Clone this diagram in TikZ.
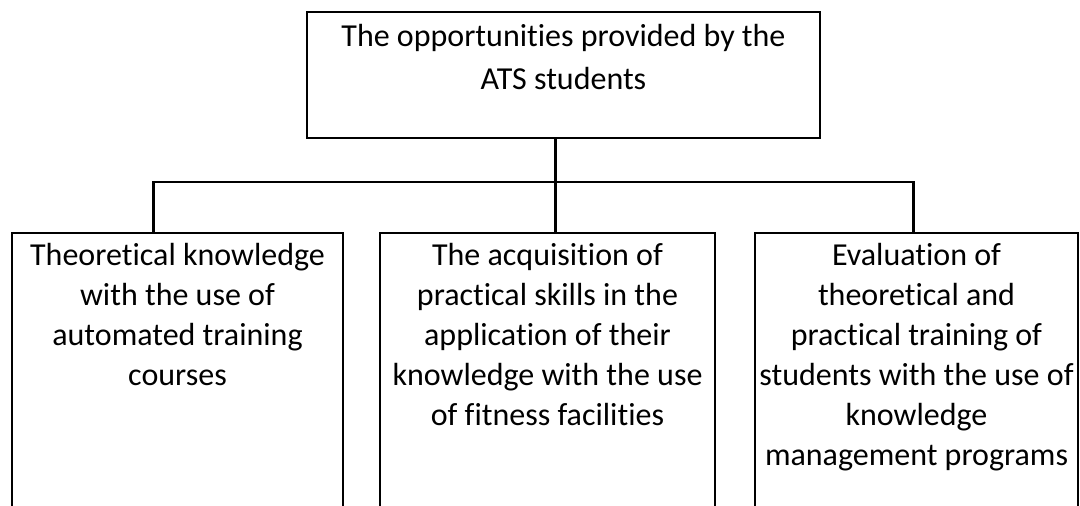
\documentclass[tikz,border=0pt]{standalone}
\usepackage{fontspec}
\setmainfont[Ligatures=NoCommon]{Carlito}
\usetikzlibrary{positioning}

% text at the top of a box of fixed size
\newcommand{\boxtext}[3]{\parbox[t][#2][t]{#1}{\centering #3}}

\begin{document}
\begin{tikzpicture}[x=1pt, y=-1pt, font=\fontsize{32}{40}\selectfont]
	\tikzstyle{box} = [draw, line width=2.2pt, anchor=north west, inner sep=0pt, outer sep=0pt]
	\tikzstyle{link} = [draw, line width=2.2pt]
	\clip (0,0) rectangle (1080,506);
	\fill[white] (0,0) rectangle (1080,506);
	% root
	\node[box, minimum width=513pt, minimum height=126pt] (root) at (307,12)
		{\boxtext{513pt}{126pt}{\vspace*{12pt}\baselineskip=43pt The opportunities provided by the\\ATS students}};
	% branches
	\node[box, minimum width=331pt, minimum height=300pt] (theory) at (12,233)
		{\boxtext{331pt}{300pt}{\vspace*{10pt}Theoretical knowledge\\with the use of\\automated training\\courses}};
	\node[box, minimum width=335pt, minimum height=300pt] (skills) at (380,233)
		{\boxtext{335pt}{300pt}{\vspace*{10pt}The acquisition of\\practical skills in the\\application of their\\knowledge with the use\\of fitness facilities}};
	\node[box, minimum width=323pt, minimum height=300pt] (evaluation) at (755,233)
		{\boxtext{323pt}{300pt}{\vspace*{10pt}Evaluation of\\theoretical and\\practical training of\\students with the use of\\knowledge\\management programs}};
	\coordinate (bus) at (555,182);
	\draw[link] ([xshift=-8pt]root.south) -- ([xshift=-8pt]root.south |- skills.north);
	\draw[link] ([xshift=-24pt]theory.north) |- (bus) -| ([xshift=-3pt]evaluation.north);
\end{tikzpicture}
\end{document}
